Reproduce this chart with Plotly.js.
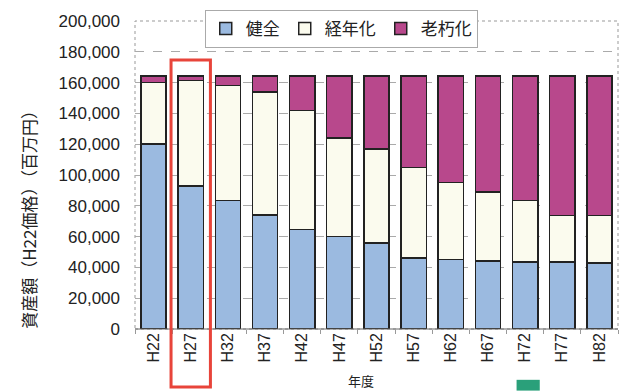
<!DOCTYPE html>
<html><head><meta charset="utf-8">
<script src="https://cdn.plot.ly/plotly-3.0.1.min.js"></script>
<style>html,body{margin:0;padding:0;background:#fff;}#chart{width:620px;height:391px;}</style>
</head><body><div id="chart"></div>
<script>
const years = ['H22','H27','H32','H37','H42','H47','H52','H57','H62','H67','H72','H77','H82'];
const kenzen = [120000, 93000, 83500, 74000, 64500, 60000, 56000, 46000, 45000, 44000, 43600, 43600, 43000];
const keinenka = [40000, 68500, 74500, 80000, 77500, 64000, 61000, 59000, 50000, 45000, 40000, 30000, 30600];
const rokyuka = [4200, 2700, 6200, 10200, 22200, 40200, 47200, 59200, 69200, 75200, 80600, 90600, 90600];
const seriesNames = ['健全','経年化','老朽化'];
const yTitle = '資産額（H22価格）（百万円）';
const xTitle = '年度';

const colors = ['#9bbae0','#fbfbee','#b8488c'];
const font = "'Liberation Sans', Arial, sans-serif";
const jfont = "'Noto Sans CJK JP', sans-serif";
const vals = [kenzen, keinenka, rokyuka];
const data = vals.map((v,i)=>({
  type:'bar', x:years, y:v, name:seriesNames[i],
  marker:{color:colors[i], line:{color:'#222', width:1.5}}
}));

const layout = {
  width:620, height:391,
  margin:{l:135, r:2, t:21, b:62},
  paper_bgcolor:'#fff', plot_bgcolor:'#fff',
  barmode:'stack', bargap:0.32,
  font:{family:font, color:'#222'},
  showlegend:true,
  legend:{orientation:'h', x:0.427, xanchor:'center', y:1.036, yanchor:'top',
    bgcolor:'#fff', bordercolor:'#aaa', borderwidth:1,
    font:{family:jfont, size:17, color:'#222'}, traceorder:'normal', itemwidth:30},
  xaxis:{type:'category', tickangle:-90, tickfont:{size:16, family:font, color:'#222'},
    ticks:'outside', tickson:'boundaries', ticklen:4, tickcolor:'#999',
    showline:false, showgrid:false, zeroline:false},
  yaxis:{range:[0,200000], dtick:20000, tickformat:',d',
    tickfont:{size:17, family:font, color:'#222'}, ticklabelstandoff:14,
    showgrid:true, gridcolor:'#aaa', griddash:'dash', gridwidth:1,
    zeroline:false, showline:false},
  annotations:[
    {text:yTitle, xref:'paper', yref:'paper', x:-0.222, y:0.37, xanchor:'center', yanchor:'middle',
     textangle:-90, showarrow:false, font:{family:jfont, size:17, color:'#222'}},
    {text:xTitle, xref:'paper', yref:'paper', x:0.468, y:-0.166, xanchor:'center', yanchor:'middle',
     showarrow:false, font:{family:jfont, size:13, color:'#222'}}
  ],
  shapes:[
    {type:'rect', xref:'paper', yref:'paper', x0:0, x1:1, y0:0, y1:1,
     line:{color:'#999', width:1, dash:'dot'}, layer:'below'},
    {type:'line', xref:'paper', yref:'paper', x0:0, x1:1, y0:0, y1:0,
     line:{color:'#666', width:1}},
    {type:'rect', xref:'x', yref:'paper', x0:0.47, x1:1.53, y0:-0.188, y1:0.873,
     line:{color:'#e8443a', width:3}, layer:'above'},
    {type:'rect', xref:'paper', yref:'paper', x0:0.79, x1:0.838, y0:-0.2, y1:-0.165,
     fillcolor:'#2aa07a', line:{width:0}}
  ]
};
Plotly.newPlot('chart', data, layout, {displayModeBar:false, staticPlot:true});
</script></body></html>
